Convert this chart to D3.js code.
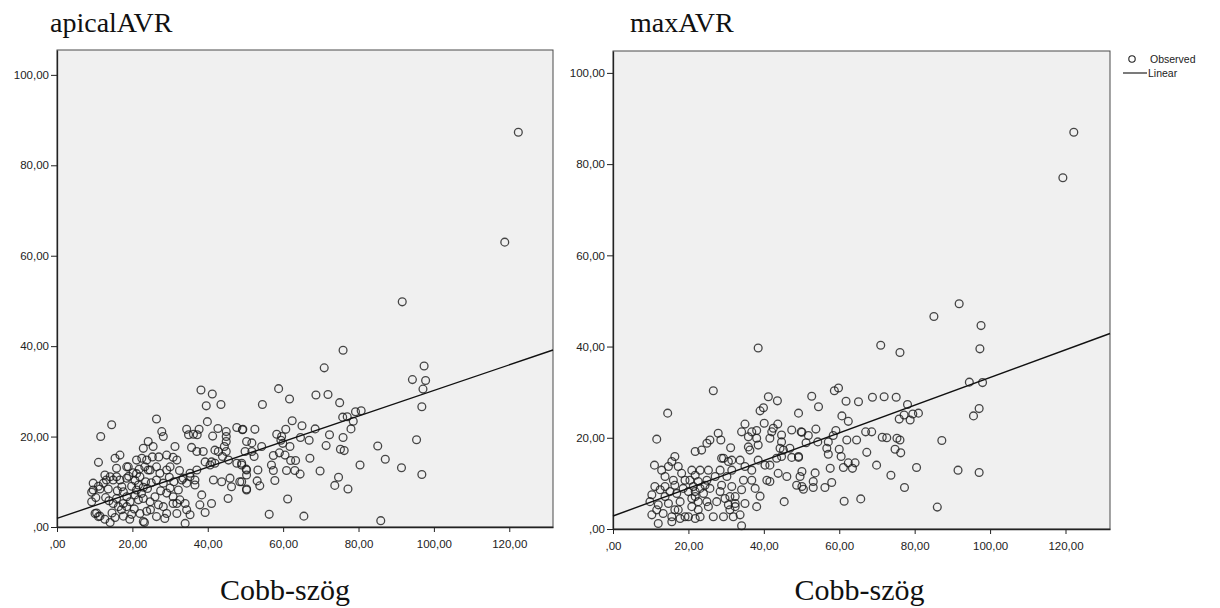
<!DOCTYPE html>
<html>
<head>
<meta charset="utf-8">
<script src="https://cdn.jsdelivr.net/npm/d3@7"></script>
<style>
  body { margin: 0; background: #fff; }
  svg { display: block; }
</style>
</head>
<body>
<div id="chart"></div>
<script>
// Cobb angle (x) vs apicalAVR (y), one pair per observation
var apicalPoints = [
  [122.4,87.3],[118.8,63.0],
  [91.6,49.8],[75.9,39.1],[70.9,35.2],[97.4,35.6],[94.3,32.6],[97.8,32.4],[97.1,30.5],[96.8,26.6],
  [58.8,30.6],[61.7,28.3],[68.7,29.2],[71.9,29.3],[75.0,27.5],[54.5,27.1],[75.8,24.3],[77.0,24.4],
  [79.2,25.5],[80.7,25.7],[78.6,23.4],[78.0,21.7],[62.4,23.5],[65.0,22.4],[68.5,21.7],[60.7,21.6],
  [58.3,20.5],[59.6,20.0],[59.4,19.2],[59.9,18.5],[72.3,20.4],[75.9,19.8],[64.6,19.8],[66.9,19.2],
  [61.8,17.8],[71.4,18.0],[75.2,17.2],[76.2,16.9],[85.1,17.9],[95.4,19.3],[87.1,15.0],[91.4,13.1],
  [96.8,11.6],[80.4,13.7],[67.1,15.2],[69.8,12.4],[74.7,11.0],[73.7,9.2],[77.2,8.4],[61.2,6.2],
  [56.3,2.8],[65.5,2.4],[85.9,1.4],[51.7,18.6],[54.3,17.8],[51.7,16.7],[52.3,15.6],[57.4,15.8],
  [59.0,16.4],[60.5,15.9],[62.0,14.7],[63.3,14.7],[53.3,12.6],[57.4,12.5],[60.9,12.5],[63.1,12.5],
  [64.5,11.7],[56.9,13.7],[57.8,10.3],[53.1,10.2],[53.8,9.1],[50.3,8.2],[49.3,21.6],[52.5,21.6],
  [49.0,14.1],[50.2,12.8],[49.0,10.0],
  [38.2,30.3],[41.2,29.4],[39.6,26.8],[43.5,27.1],[26.4,23.9],[14.5,22.6],[11.6,20.0],[11.0,14.3],
  [39.9,23.3],[37.7,21.6],[34.4,21.6],[34.9,20.4],[36.2,20.5],[37.2,20.4],[41.3,20.1],[42.7,21.8],
  [44.9,21.1],[44.9,20.0],[44.9,18.9],[44.4,17.8],[44.9,16.7],[43.9,15.6],[45.5,14.8],[47.7,22.0],
  [49.2,21.5],[50.3,18.9],[49.9,16.7],[50.3,12.6],[50.3,11.5],[47.7,14.1],[49.0,13.7],[41.9,17.0],
  [42.8,16.7],[41.9,14.1],[40.6,13.7],[41.5,10.4],[43.7,10.0],[45.9,10.8],[46.3,8.9],[48.5,10.0],
  [50.3,8.4],[45.4,6.3],[38.4,7.1],[37.9,4.9],[41.0,5.2],[39.3,3.2],[36.6,10.4],[36.6,9.3],
  [37.1,12.6],[35.3,11.9],[33.5,10.8],[31.8,14.8],[30.8,15.4],[31.3,17.8],[29.1,15.9],[35.7,17.6],
  [37.1,16.7],[38.8,16.7],[39.3,14.4],[41.0,14.4],[27.8,21.1],[28.2,20.0],[24.2,18.9],[22.9,17.4],
  [25.5,17.8],[23.8,14.8],[24.7,12.6],[16.7,15.9],[15.4,15.2],[15.8,13.0],[12.7,11.5],[15.8,11.1],
  [18.5,10.8],[18.9,13.3],[21.1,14.8],[21.1,11.8],[22.0,11.1],[20.7,10.3],[21.6,9.3],[22.9,8.8],
  [21.1,8.2],[22.4,7.4],[20.7,7.1],[22.9,6.3],[21.6,6.0],[9.6,9.7],[11.0,9.0],[12.3,9.7],
  [13.1,10.4],[11.4,8.4],[13.6,8.4],[10.3,6.5],[12.9,6.5],[9.2,7.7],[14.1,11.1],[14.9,10.4],
  [16.7,10.4],[17.2,8.9],[10.5,3.1],[11.4,2.4],[12.7,1.7],[14.1,1.0],[15.4,2.1],[14.6,3.1],
  [17.1,3.8],[17.6,2.4],[19.3,1.7],[22.9,1.2],[23.2,1.0],[26.4,2.3],[29.1,3.0],[28.6,1.9],
  [31.8,5.2],[31.8,3.0],[34.0,5.2],[34.4,3.8],[35.3,2.7],[34.0,0.8],[26.4,10.4],[28.2,9.7],
  [30.0,8.6],[29.1,7.5],[30.8,6.7],[32.2,8.2],[32.6,6.0],[30.8,5.2],[26.0,6.7],[26.9,4.9],
  [24.7,5.6],[28.2,4.5],[33.1,10.4],[34.4,9.7],[35.3,11.1],[17.6,7.8],[18.5,6.7],[19.4,5.6],
  [17.6,5.2],[15.8,6.3],[16.3,4.5],[18.5,4.5],[14.9,5.2],[24.2,12.6],[26.4,13.3],[27.3,11.9],
  [29.1,12.6],[30.0,13.3],[22.5,15.2],[23.3,13.3],[18.5,13.3],[10.1,3.0],[11.0,2.3],[9.2,5.6],
  [9.6,8.2],[20.2,12.0],[23.5,10.0],[19.8,9.0],[24.0,8.5],[21.8,12.8],[20.5,4.0],[23.8,3.5],[19.0,11.2],
  [25.0,9.8],[27.5,8.0],[31.0,10.0],[29.8,11.0],[22.0,3.0],[24.8,3.8],[19.8,2.8],[13.8,5.8],
  [16.0,8.0],[27.0,15.5],[32.5,12.5],[25.3,15.5]
];

// Cobb angle (x) vs maxAVR (y)
var maxPoints = [
  [122.2,87.0],[119.3,77.0],[38.5,39.7],
  [26.6,30.3],[14.5,25.4],[11.6,19.7],[11.0,14.0],[41.2,29.0],[43.6,28.1],[39.0,25.9],[39.9,26.6],
  [49.2,25.4],[35.0,23.0],[40.1,23.2],[43.7,23.0],[47.4,21.7],[49.9,21.3],[34.1,21.3],[35.9,20.2],
  [36.8,21.3],[38.1,21.6],[38.1,19.9],[42.1,21.3],[42.5,22.1],[41.6,19.9],[44.7,20.6],[44.7,19.1],
  [44.3,17.7],[45.2,17.3],[46.9,17.7],[35.9,18.0],[36.3,17.3],[38.5,18.4],[27.9,21.0],[28.6,19.5],
  [25.7,19.5],[24.9,18.8],[23.5,17.3],[21.8,17.0],[31.2,17.8],[29.3,15.5],[31.5,15.1],[33.7,15.1],
  [38.5,15.1],[40.3,14.0],[41.6,14.0],[43.4,15.5],[44.7,15.9],[47.4,15.7],[49.2,15.7],[40.8,10.7],
  [41.6,10.4],[43.8,12.2],[46.1,11.5],[48.7,9.6],[49.6,11.5],[50.1,9.3],[45.4,6.0],[39.0,7.2],
  [38.1,4.9],[33.7,3.1],[34.1,0.7],[26.6,2.7],[35.0,5.6],[34.1,8.6],[32.4,7.1],[30.6,5.3],
  [29.7,6.7],[28.4,8.2],[27.5,6.0],[31.5,9.3],[34.6,10.7],[36.8,10.7],[36.8,12.9],[35.0,13.7],
  [37.7,8.9],[20.9,12.9],[21.8,11.8],[20.4,10.7],[22.6,10.4],[21.3,9.3],[23.1,8.9],[20.0,8.2],
  [21.8,7.1],[24.0,7.8],[22.6,6.0],[25.3,12.9],[24.9,10.7],[27.1,11.5],[25.7,8.9],[20.9,4.9],
  [22.6,4.2],[20.0,2.7],[23.1,2.7],[17.3,4.2],[17.8,2.3],[15.6,2.7],[15.6,1.6],[16.4,15.9],
  [15.6,14.8],[14.7,13.7],[12.9,12.9],[17.3,13.7],[18.2,12.2],[13.8,11.5],[16.0,10.7],[11.1,9.3],
  [12.5,8.6],[10.3,7.5],[13.8,7.1],[16.9,7.8],[9.8,6.0],[12.0,5.3],[14.7,5.6],[17.8,6.0],
  [10.3,3.1],[12.0,1.2],[13.3,3.4],[16.4,9.6],[18.6,8.9],[28.8,15.5],[30.6,14.8],[28.4,12.9],
  [31.5,12.9],[30.2,11.5],[32.4,4.9],[31.0,4.2],[29.3,2.7],[31.9,2.7],
  [23.1,12.9],[19.1,10.7],[24.4,9.6],[21.8,8.2],[20.9,6.7],[24.9,6.0],[28.8,9.6],[31.0,7.1],
  [32.4,5.6],[25.3,4.9],[13.8,9.3],[15.1,8.2],[11.6,4.2],[16.4,4.2],[19.1,2.7],[21.8,2.3],
  [91.8,49.4],[85.1,46.6],[97.6,44.6],[97.3,39.5],[71.0,40.3],[76.1,38.7],[94.5,32.2],[98.0,32.1],
  [97.1,26.4],[95.6,24.8],[87.2,19.4],[91.5,12.9],[97.1,12.4],[86.0,4.8],[77.3,9.1],[80.5,13.5],
  [73.7,11.8],[69.9,14.0],[65.7,6.6],[61.3,6.1],[68.8,28.9],[71.9,29.0],[75.1,28.9],[78.1,27.3],
  [77.2,25.0],[79.5,25.2],[81.0,25.4],[75.9,24.1],[78.8,23.9],[67.0,21.3],[68.6,21.3],[71.4,20.1],
  [72.6,20.0],[75.3,19.9],[76.1,19.5],[74.8,17.5],[76.3,16.7],[67.3,16.8],[58.7,30.3],[59.8,30.9],
  [52.7,29.1],[54.5,26.8],[61.8,28.0],[65.1,27.9],[60.7,24.8],[62.4,23.6],[50.1,21.2],[51.8,20.5],
  [53.8,21.9],[51.2,18.9],[54.3,19.1],[58.4,20.5],[59.1,21.6],[57.1,19.1],[62.0,19.5],[64.6,19.5],
  [56.7,17.7],[60.0,17.5],[57.1,16.4],[60.5,15.9],[62.4,14.5],[64.2,14.5],[63.5,13.3],[61.1,13.5],
  [57.6,13.3],[53.6,12.3],[50.1,12.6],[49.2,15.9],[58.0,10.2],[56.2,9.1],[53.1,10.4],[53.1,9.1],
  [50.5,8.7]
];

// linear fit: [intercept, slope]
var apicalFit = [1.9, 0.283];
var maxFit = [2.85, 0.3036];

var xTicks = [0, 20, 40, 60, 80, 100, 120];
var yTicks = [0, 20, 40, 60, 80, 100];

var W = 1220, H = 608;

var svg = d3.select("#chart")
  .append("svg")
    .attr("width", W)
    .attr("height", H);

function fmt(d) {
  return d === 0 ? ",00" : d.toFixed(2).replace(".", ",");
}

function drawPanel(p) {
  var x = d3.scaleLinear()
      .domain([0, p.xMax])
      .range([p.left, p.right]);
  var y = d3.scaleLinear()
      .domain([0, p.yMax])
      .range([p.bottom, p.top]);

  svg.append("rect")
      .attr("x", p.left)
      .attr("y", p.top)
      .attr("width", p.right - p.left)
      .attr("height", p.bottom - p.top)
      .attr("fill", "#f0f0f0")
      .attr("stroke", "#4a4a4a")
      .attr("stroke-width", 1);

  var gx = svg.append("g")
      .attr("transform", "translate(0," + p.bottom + ")")
      .call(d3.axisBottom(x).tickValues(xTicks).tickFormat(fmt).tickSize(5).tickSizeOuter(0).tickPadding(8));
  var gy = svg.append("g")
      .attr("transform", "translate(" + p.left + ",0)")
      .call(d3.axisLeft(y).tickValues(yTicks).tickFormat(fmt).tickSize(6).tickSizeOuter(0).tickPadding(2));

  [gx, gy].forEach(function(g) {
    g.select(".domain").attr("stroke", "#222").attr("stroke-width", 1.3);
    g.selectAll(".tick line").attr("stroke", "#222");
    g.selectAll(".tick text")
      .attr("fill", "#222")
      .style("font-family", "'Liberation Sans', Arial, sans-serif")
      .style("font-size", "11.5px");
  });

  svg.append("g")
    .selectAll("circle")
    .data(p.points)
    .enter()
      .append("circle")
        .attr("cx", function(d) { return x(d[0]); })
        .attr("cy", function(d) { return y(d[1]); })
        .attr("r", 3.9)
        .attr("fill", "none")
        .attr("stroke", "#1a1a1a")
        .attr("stroke-opacity", 0.8)
        .attr("stroke-width", 1.3);

  var fit = p.fit;
  svg.append("line")
      .attr("x1", x(0))
      .attr("y1", y(fit[0]))
      .attr("x2", x(p.xMax))
      .attr("y2", y(fit[0] + fit[1] * p.xMax))
      .attr("stroke", "#111")
      .attr("stroke-width", 1.4);

  svg.append("text")
      .attr("x", p.titleX)
      .attr("y", 32)
      .text(p.title)
      .style("font-family", "'Liberation Serif', 'Times New Roman', serif")
      .style("font-size", "28px")
      .attr("fill", "#111");

  svg.append("text")
      .attr("x", (p.left + p.right) / 2 + p.xLabelShift)
      .attr("y", 600)
      .attr("text-anchor", "middle")
      .text("Cobb-szög")
      .style("font-family", "'Liberation Serif', 'Times New Roman', serif")
      .style("font-size", "30px")
      .attr("fill", "#111");
}

drawPanel({
  points: apicalPoints, fit: apicalFit, title: "apicalAVR", titleX: 50,
  left: 57, right: 553, top: 50, bottom: 527, xMax: 131.6, yMax: 105.5, xLabelShift: -20
});

drawPanel({
  points: maxPoints, fit: maxFit, title: "maxAVR", titleX: 630,
  left: 613, right: 1110, top: 51, bottom: 529, xMax: 131.8, yMax: 104.8, xLabelShift: -2
});

// legend
var legend = svg.append("g")
    .style("font-family", "'Liberation Sans', Arial, sans-serif")
    .style("font-size", "10.5px")
    .attr("fill", "#222");
legend.append("circle")
    .attr("cx", 1132).attr("cy", 59).attr("r", 3.2)
    .attr("fill", "none").attr("stroke", "#222").attr("stroke-width", 1.1);
legend.append("text").attr("x", 1150).attr("y", 63).text("Observed");
legend.append("line")
    .attr("x1", 1123).attr("x2", 1147).attr("y1", 73).attr("y2", 73)
    .attr("stroke", "#222").attr("stroke-width", 1.2);
legend.append("text").attr("x", 1148).attr("y", 77).text("Linear");
</script>
</body>
</html>
